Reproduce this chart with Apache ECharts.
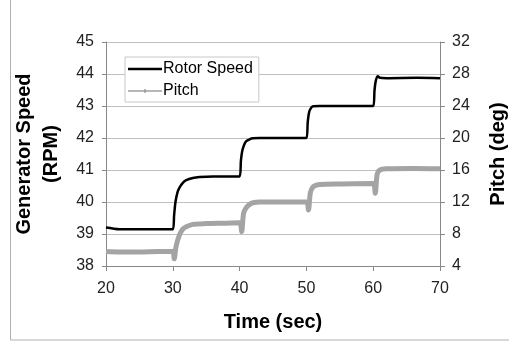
<!DOCTYPE html>
<html>
<head>
<meta charset="utf-8">
<script src="https://cdn.jsdelivr.net/npm/echarts@6/dist/echarts.min.js"></script>
<style>
  html, body { margin: 0; padding: 0; background: #fff; }
  #chart { width: 509px; height: 343px; }
</style>
</head>
<body>
<div id="chart"></div>
<script>
var chart = echarts.init(document.getElementById('chart'));

// rotor speed (RPM) vs time (sec)
var speedTime = [20, 21, 22, 25, 30, 30.2, 30.4, 30.7, 31, 31.5, 32, 33, 34, 36, 40, 40.2, 40.4, 40.7, 41, 41.5, 42, 43, 45, 50, 50.2, 50.4, 50.7, 51, 52, 55, 60, 60.2, 60.4, 60.7, 61, 62, 66.5, 70];
var speedVal = [39.2, 39.17, 39.15, 39.15, 39.15, 39.6, 40.0, 40.3, 40.45, 40.6, 40.68, 40.75, 40.78, 40.8, 40.8, 41.3, 41.6, 41.8, 41.9, 41.96, 41.99, 42, 42, 42, 42.5, 42.8, 42.94, 42.99, 43.0, 43.0, 43.0, 43.5, 43.8, 43.93, 43.88, 43.87, 43.88, 43.87];

// pitch (deg) vs time (sec)
var pitchTime = [20, 22, 25, 28, 30, 30.2, 30.5, 31, 31.5, 32, 33, 35, 38, 40, 40.3, 40.6, 41, 41.5, 42, 43, 46, 50, 50.3, 50.6, 51, 51.5, 52, 55, 60, 60.3, 60.6, 61, 62, 66, 70];
var pitchVal = [5.8, 5.75, 5.75, 5.8, 5.8, 4.9, 6.5, 7.9, 8.6, 8.9, 9.2, 9.3, 9.35, 9.4, 8.3, 10.6, 11.3, 11.7, 11.9, 12.0, 12.0, 12.0, 11.0, 13.2, 13.9, 14.1, 14.2, 14.25, 14.3, 13.1, 15.5, 16.0, 16.15, 16.2, 16.15];

function pairs(xs, ys) {
    var res = [];
    for (var i = 0; i < xs.length; i++) res.push([xs[i], ys[i]]);
    return res;
}

var font = 'Liberation Sans, Arial, sans-serif';

option = {
    animation: false,
    backgroundColor: '#fff',
    graphic: [{
        type: 'rect',
        shape: { x: 10.5, y: -5, width: 520, height: 345 },
        style: { fill: 'none', stroke: '#b0b0b0', lineWidth: 1 },
        silent: true
    }],
    legend: {
        orient: 'vertical',
        left: 125,
        top: 57,
        width: 130,
        padding: [4, 6, 3, 3],
        itemGap: 6,
        itemWidth: 34,
        itemHeight: 16,
        borderColor: '#c8c8c8',
        borderWidth: 1,
        backgroundColor: '#fff',
        textStyle: { fontFamily: font, fontSize: 16, color: '#000', padding: [0, 0, 0, -4] },
        data: [
            { name: 'Rotor Speed', icon: 'path://M0,0H34V2.6H0Z', itemStyle: { color: '#000' } },
            { name: 'Pitch', icon: 'path://M0,0.9H34V2.4H0Z M16,0H18V3.3H16Z', itemStyle: { color: '#a0a0a0' } }
        ],
        symbolKeepAspect: true
    },
    grid: { left: 106, right: 69, top: 42, bottom: 77, outerBoundsMode: 'none', containLabel: false },
    xAxis: {
        type: 'value',
        min: 20, max: 70, interval: 10,
        name: 'Time (sec)',
        nameLocation: 'middle',
        nameGap: 46,
        nameTextStyle: { fontFamily: font, fontSize: 20, fontWeight: 'bold', color: '#000' },
        axisLine: { onZero: false, lineStyle: { color: '#888' } },
        axisTick: { show: true, inside: false, length: 5, lineStyle: { color: '#888' } },
        axisLabel: { fontFamily: font, fontSize: 16, color: '#222', margin: 15 },
        splitLine: { show: false }
    },
    yAxis: [{
        type: 'value',
        min: 38, max: 45, interval: 1,
        name: 'Generator Speed\n(RPM)',
        nameLocation: 'middle',
        nameGap: 35,
        nameRotate: 90,
        nameTextStyle: { fontFamily: font, fontSize: 20, fontWeight: 'bold', color: '#000', lineHeight: 27 },
        axisLine: { show: true, lineStyle: { color: '#888' } },
        axisTick: { show: true, inside: false, length: 4, lineStyle: { color: '#888' } },
        axisLabel: { fontFamily: font, fontSize: 16, color: '#222', margin: 12 },
        splitLine: { show: true, lineStyle: { color: '#c0c0c0', width: 1 } }
    }, {
        type: 'value',
        min: 4, max: 32, interval: 4,
        position: 'right',
        name: 'Pitch (deg)',
        nameLocation: 'middle',
        nameGap: 48,
        nameRotate: 90,
        nameTextStyle: { fontFamily: font, fontSize: 20, fontWeight: 'bold', color: '#000' },
        axisLine: { show: true, lineStyle: { color: '#888' } },
        axisTick: { show: true, inside: false, length: 5, lineStyle: { color: '#888' } },
        axisLabel: { fontFamily: font, fontSize: 16, color: '#222', margin: 12 },
        splitLine: { show: false }
    }],
    series: [{
        name: 'Rotor Speed',
        type: 'line',
        yAxisIndex: 0,
        data: pairs(speedTime, speedVal),
        smooth: 0.3,
        symbol: 'none',
        lineStyle: { color: '#000', width: 2.5 },
        itemStyle: { color: '#000' },
        z: 3
    }, {
        name: 'Pitch',
        type: 'line',
        yAxisIndex: 1,
        data: pairs(pitchTime, pitchVal),
        smooth: 0.3,
        symbol: 'none',
        lineStyle: { color: '#a4a4a4', width: 5 },
        itemStyle: { color: '#a4a4a4' },
        z: 2
    }]
};

chart.setOption(option);
</script>
</body>
</html>
